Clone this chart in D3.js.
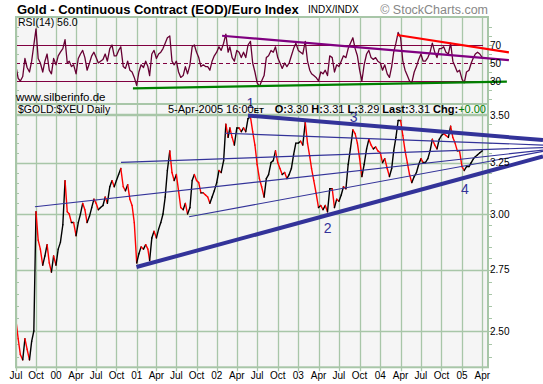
<!DOCTYPE html>
<html><head><meta charset="utf-8">
<script src="https://cdn.jsdelivr.net/npm/d3@7"></script>
<style>body{margin:0;background:#fff}svg{display:block}</style>
</head><body><svg id="c" width="543" height="384"></svg>
<script>
// ---------------- DATA ----------------
// closes sampled on the 1st, 11th and 21st of each month starting July 1999
const seriesStart = [1999, 6];
const closes = [
 2.54,2.47,2.41,2.39,2.47,2.43,2.39,2.46,2.50,
 3.01,2.88,2.84,2.77,2.81,2.86,2.78,2.74,2.81,
 2.77,2.84,2.87,2.95,3.16,3.01,3.00,2.96,2.96,
 2.90,2.96,3.00,3.05,3.02,2.96,2.99,3.03,3.07,
 3.05,3.02,3.03,3.04,3.08,3.05,3.13,3.16,3.13,
 3.16,3.19,3.22,3.13,3.11,3.14,3.07,3.04,2.96,
 2.78,2.82,2.85,2.84,2.86,2.84,2.79,2.89,2.92,
 2.89,2.93,2.96,3.00,3.08,3.21,3.31,3.20,3.16,
 3.19,3.11,3.03,3.02,3.05,3.00,3.03,3.16,3.19,
 3.16,3.15,3.10,3.10,3.09,3.08,3.05,3.08,3.11,
 3.15,3.21,3.20,3.26,3.45,3.38,3.43,3.38,3.34,
 3.43,3.43,3.41,3.43,3.41,3.48,3.49,3.41,3.34,
 3.24,3.17,3.13,3.08,3.17,3.19,3.25,3.26,3.31,
 3.25,3.22,3.19,3.20,3.17,3.19,3.22,3.29,3.35,
 3.35,3.36,3.34,3.46,3.35,3.28,3.22,3.16,3.10,
 3.03,3.04,3.02,3.04,3.01,3.12,3.12,3.03,3.07,
 3.06,3.09,3.13,3.12,3.24,3.32,3.42,3.40,3.35,
 3.27,3.18,3.24,3.32,3.37,3.34,3.32,3.33,3.31,
 3.30,3.25,3.27,3.22,3.18,3.22,3.31,3.38,3.47,
 3.47,3.39,3.31,3.25,3.19,3.15,3.18,3.20,3.24,
 3.27,3.25,3.25,3.27,3.31,3.37,3.34,3.32,3.37,
 3.39,3.40,3.39,3.38,3.44,3.38,3.35,3.31,3.31,
 3.23,3.21,3.23,3.23,3.25,3.27,3.28,3.29,3.30,
 3.31
];
const rsiValues = [
 46,33,30,35,55,45,40,52,70,
 88,55,50,40,52,60,42,38,55,
 48,58,62,66,76,50,52,46,48,
 38,55,60,64,56,42,50,58,62,
 56,50,52,54,60,52,66,70,58,
 58,64,68,46,44,52,42,40,34,
 25,40,48,45,52,46,36,60,64,
 55,60,62,66,72,78,80,52,48,
 52,40,34,36,46,38,48,68,70,
 62,56,46,48,46,46,42,52,58,
 62,68,64,72,82,62,68,56,52,
 64,62,56,62,56,70,74,50,40,
 28,24,30,36,56,58,64,62,68,
 56,50,44,50,46,50,58,66,72,
 64,62,60,74,52,42,38,36,34,
 30,40,38,42,36,58,56,40,48,
 46,52,58,56,66,72,78,66,58,
 42,30,48,60,64,56,54,56,52,
 50,42,48,38,34,46,62,72,84,
 78,52,42,36,30,28,40,46,54,
 60,52,52,56,62,72,62,56,66,
 66,68,62,60,72,52,46,40,42,
 32,28,40,42,50,56,60,62,60,
 56
];
const quarterLabels = ["Jul","Oct","00","Apr","Jul","Oct","01","Apr","Jul","Oct","02","Apr",
 "Jul","Oct","03","Apr","Jul","Oct","04","Apr","Jul","Oct","05","Apr"];
const priceTicks = [2.50, 2.75, 3.00, 3.25, 3.50];
const rsiTicks = [70, 50, 30];
// trend lines: [startDate, startValue, endDate, endValue, heavy]
const priceTrendLines = [
 ["2002-05-21",3.497,"2005-12-26",3.366,true],
 ["2000-12-31",2.762,"2005-12-26",3.281,true],
 ["1999-09-26",3.034,"2005-12-26",3.314,false],
 ["2000-10-22",3.251,"2005-12-26",3.327,false],
 ["2002-02-07",3.402,"2005-12-26",3.340,false],
 ["2001-08-28",2.987,"2005-12-26",3.307,false]
];
const rsiTrendLines = [
 ["2002-01-25",80.3,"2005-07-28",53.3,"#800080"],
 ["2004-03-16",81.1,"2005-07-28",61.9,"#ff0000"],
 ["2000-12-15",21.9,"2005-07-19",29.4,"#008000"]
];
const waveLabels = ["1","2","3","4"];
const waveDates = ["2002-06-01","2003-05-12","2003-09-04","2005-01-14"];
const wavePrices = [3.54, 2.912, 3.46, 3.095];
const lastRsi = "56.0";
const quote = {date:"5-Apr-2005 16:00", O:"3.30", H:"3.31", L:"3.29", Last:"3.31", Chg:"+0.00"};

// ---------------- LAYOUT ----------------
const FONT = '"Liberation Sans", Arial, Helvetica, sans-serif';
const GRID = "#a8c6a8", BG = "#f5f5f5", NAVY = "#333399";
const L = 16, R = 488, rT = 17, rB = 104, pT = 104, pB = 367.3;
const parse = d3.utcParse("%Y-%m-%d");
const dekad = k => new Date(Date.UTC(seriesStart[0], seriesStart[1] + Math.floor(k/3), 1 + 10*(k%3)));
const quarterDates = quarterLabels.map((_, i) => new Date(Date.UTC(1999, 6 + 3*i, 1)));

const xs = d3.scaleUtc()
  .domain(["1999-07-01","2000-01-01","2001-01-01","2002-01-01","2003-01-01","2004-01-01","2005-01-01","2005-04-01"].map(parse))
  .range([16, 56, 136.7, 216.7, 298.3, 380.3, 462, 482.3]);
const ys = d3.scaleLog().domain([2.5, 3.5]).range([331, 115]);
const yr = d3.scaleLinear().domain([30, 70]).range([81, 45]);

const svg = d3.select("#c").style("font-family", FONT);

// panels
svg.append("rect").attr("x", L).attr("y", rT).attr("width", R-L).attr("height", rB-rT).attr("fill", BG);
svg.append("rect").attr("x", L).attr("y", pT).attr("width", R-L).attr("height", pB-pT).attr("fill", BG);

// vertical gridlines
quarterDates.forEach(d => {
  const x = Math.round(xs(d)) + 0.5;
  svg.append("line").attr("x1", x).attr("x2", x).attr("y1", rT).attr("y2", rB).attr("stroke", GRID).attr("stroke-width", 1.3);
  svg.append("line").attr("x1", x).attr("x2", x).attr("y1", pT).attr("y2", pB).attr("stroke", GRID).attr("stroke-width", 1.3);
  svg.append("line").attr("x1", x).attr("x2", x).attr("y1", pB).attr("y2", pB+4).attr("stroke", GRID).attr("stroke-width", 1.3);
});
// horizontal price gridlines
priceTicks.forEach(p => {
  const y = Math.round(ys(p)) + 0.5;
  svg.append("line").attr("x1", L).attr("x2", R).attr("y1", y).attr("y2", y).attr("stroke", GRID).attr("stroke-width", 1.3);
});
// price minor ticks (0.05)
d3.range(2.40, 3.56, 0.05).forEach(p => {
  const y = Math.round(ys(p)) + 0.5;
  if (y < pT + 12 || y > pB) return;
  svg.append("line").attr("x1", R).attr("x2", R+4).attr("y1", y).attr("y2", y).attr("stroke", GRID);
  svg.append("line").attr("x1", L).attr("x2", L+3).attr("y1", y).attr("y2", y).attr("stroke", GRID);
});
// rsi minor ticks
d3.range(10, 100, 10).forEach(v => {
  const y = Math.round(yr(v)) + 0.5;
  svg.append("line").attr("x1", R).attr("x2", R+4).attr("y1", y).attr("y2", y).attr("stroke", GRID);
  svg.append("line").attr("x1", L).attr("x2", L+3).attr("y1", y).attr("y2", y).attr("stroke", GRID);
});
// header separator
svg.append("line").attr("x1", L).attr("x2", R).attr("y1", 114.5).attr("y2", 114.5).attr("stroke", GRID).attr("stroke-width", 1.3);

// RSI reference lines
rsiTicks.forEach(v => {
  const y = Math.round(yr(v)) + 0.5;
  svg.append("line").attr("x1", L).attr("x2", R - 5).attr("y1", y).attr("y2", y)
    .attr("stroke", "#800040").attr("stroke-width", 1)
    .attr("stroke-dasharray", v === 50 ? "4,3" : null);
});

// RSI line
svg.append("clipPath").attr("id", "rc").append("rect").attr("x", L).attr("y", rT).attr("width", R-L).attr("height", rB-rT);
svg.append("path").attr("clip-path", "url(#rc)")
  .attr("d", d3.line().x((d, i) => xs(dekad(i))).y(d => yr(d))(rsiValues))
  .attr("fill", "none").attr("stroke", "#660033").attr("stroke-width", 1.3).attr("stroke-linejoin", "round");

// price segments (black up, red down)
const pg = svg.append("g");
closes.forEach((c, i) => {
  if (i === 0) return;
  pg.append("line")
    .attr("x1", xs(dekad(i-1))).attr("y1", ys(closes[i-1]))
    .attr("x2", xs(dekad(i))).attr("y2", ys(c))
    .attr("stroke", c >= closes[i-1] ? "#000" : "#ff0000").attr("stroke-width", 1.4)
    .attr("stroke-linecap", "round");
});

// borders
[[rT, rB], [pT, pB]].forEach(([a, b]) => {
  svg.append("rect").attr("x", L).attr("y", a).attr("width", R-L).attr("height", b-a)
    .attr("fill", "none").attr("stroke", GRID).attr("stroke-width", 2);
});

// RSI trend lines
rsiTrendLines.forEach(t => {
  svg.append("line").attr("x1", xs(parse(t[0]))).attr("y1", yr(t[1]))
    .attr("x2", xs(parse(t[2]))).attr("y2", yr(t[3]))
    .attr("stroke", t[4]).attr("stroke-width", 2.2);
});
// price trend lines
priceTrendLines.forEach(t => {
  svg.append("line").attr("x1", xs(parse(t[0]))).attr("y1", ys(t[1]))
    .attr("x2", xs(parse(t[2]))).attr("y2", ys(t[3]))
    .attr("stroke", NAVY).attr("stroke-width", t[4] ? 4 : 1.2);
});
// wave labels
waveLabels.forEach((s, i) => {
  svg.append("text").attr("x", xs(parse(waveDates[i]))).attr("y", ys(wavePrices[i]))
    .attr("text-anchor", "middle").attr("font-size", 14).attr("fill", NAVY).text(s);
});

// axis labels
quarterLabels.forEach((s, i) => {
  svg.append("text").attr("x", xs(quarterDates[i])).attr("y", 379).attr("text-anchor", "middle")
    .attr("font-size", 10).attr("fill", "#000").text(s);
});
priceTicks.forEach(p => {
  svg.append("text").attr("x", 490).attr("y", ys(p) + 3.6).attr("font-size", 10).text(p.toFixed(2));
});
rsiTicks.forEach(v => {
  svg.append("text").attr("x", 490).attr("y", yr(v) + 3.6).attr("font-size", 10).text(v);
});

// titles
svg.append("text").attr("x", 17).attr("y", 13.5).attr("font-size", 13).attr("font-weight", "bold")
  .text("Gold - Continuous Contract (EOD)/Euro Index");
svg.append("text").attr("x", 308).attr("y", 13).attr("font-size", 10).text("INDX/INDX");
svg.append("text").attr("x", 488).attr("y", 14).attr("text-anchor", "end").attr("font-size", 12.5)
  .attr("fill", "#888").text("\u00a9 StockCharts.com");
svg.append("text").attr("x", 18).attr("y", 25.5).attr("font-size", 10.5).text("RSI(14) " + lastRsi);
svg.append("text").attr("x", 16).attr("y", 100.5).attr("font-size", 11.5).text("www.silberinfo.de");
svg.append("text").attr("x", 18).attr("y", 113).attr("font-size", 10.5).text("$GOLD:$XEU Daily");

const hd = svg.append("text").attr("x", 168).attr("y", 113).attr("font-size", 11);
hd.append("tspan").text(quote.date);
hd.append("tspan").attr("font-size", 8).attr("font-weight", "bold").text("ET");
const q = svg.append("text").attr("x", 486).attr("y", 113).attr("font-size", 11).attr("text-anchor", "end");
[["O:", quote.O], ["H:", quote.H], ["L:", quote.L], ["Last:", quote.Last], ["Chg:", quote.Chg]].forEach((p, i) => {
  q.append("tspan").attr("font-weight", "bold").text((i ? " " : "") + p[0]);
  q.append("tspan").attr("fill", p[0] === "Chg:" ? "#008000" : "#000").text(p[1]);
});
</script></body></html>
